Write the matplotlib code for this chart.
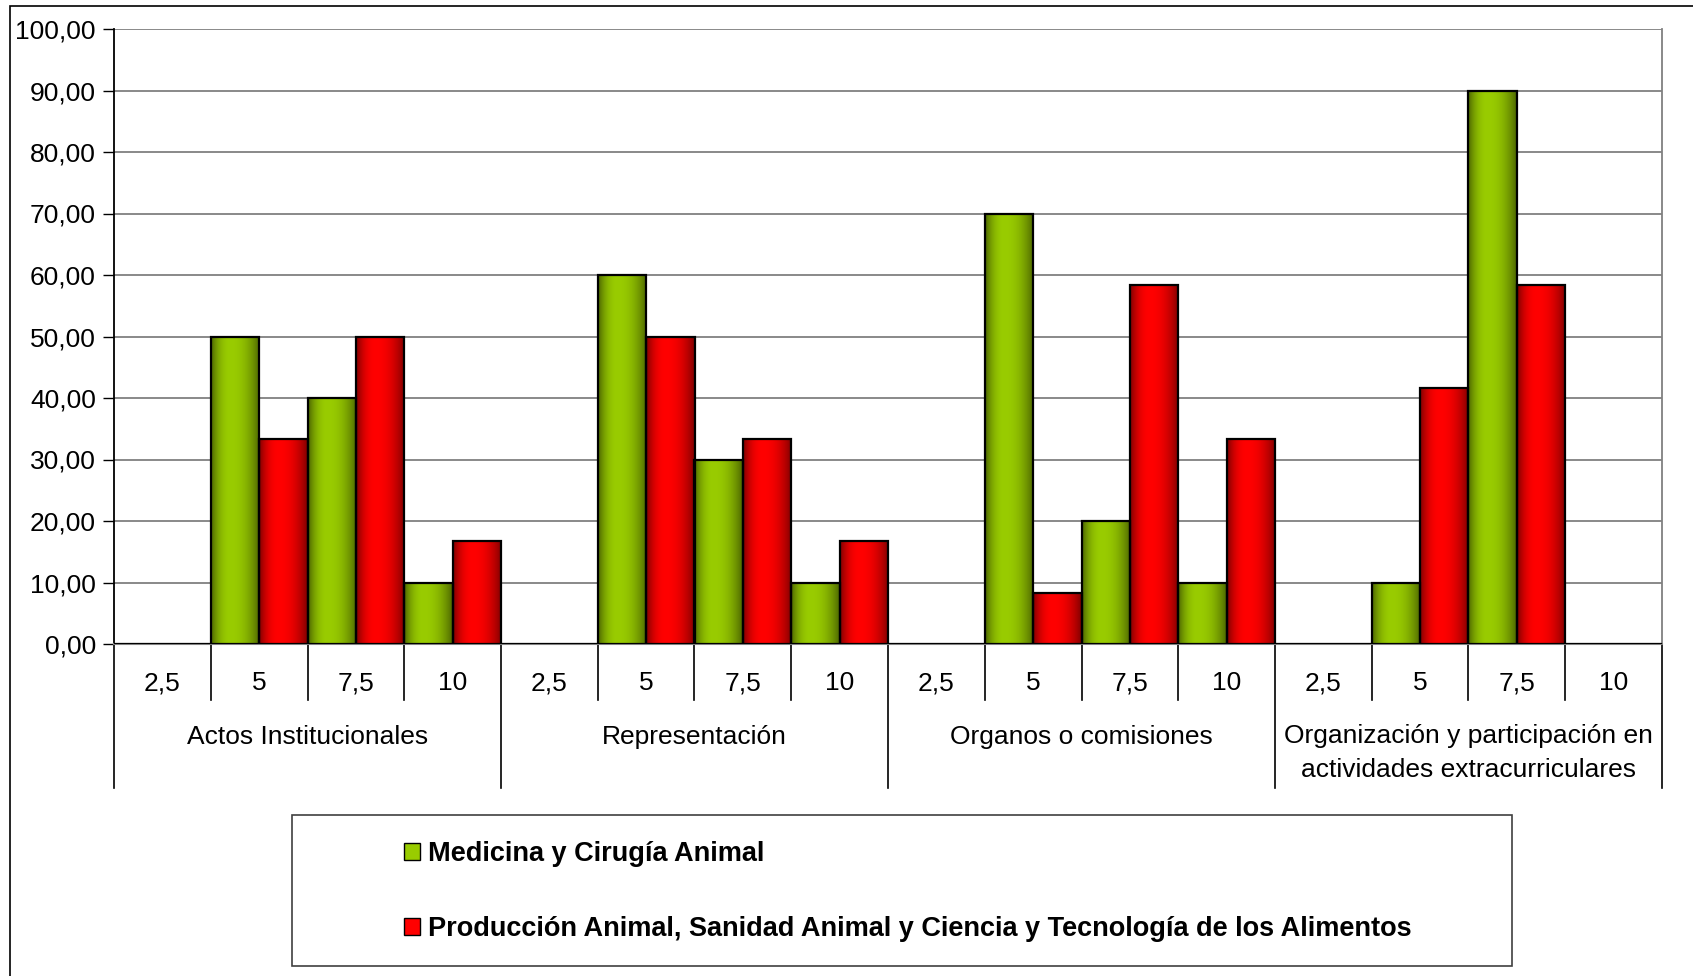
import numpy as np
import matplotlib
matplotlib.use("Agg")
import matplotlib.pyplot as plt
from matplotlib.patches import Rectangle, Patch
from matplotlib.colors import to_rgb

# Data
groups = ["Actos Institucionales", "Representación", "Organos o comisiones",
          "Organización y participación en\nactividades extracurriculares"]
levels = ["2,5", "5", "7,5", "10"]
series_names = ["Medicina y Cirugía Animal",
                "Producción Animal, Sanidad Animal y Ciencia y Tecnología de los Alimentos"]
medicina = [0, 50, 40, 10,
            0, 60, 30, 10,
            0, 70, 20, 10,
            0, 10, 90, 0]
produccion = [0, 33.33, 50, 16.67,
              0, 50, 33.33, 16.67,
              0, 8.33, 58.33, 33.33,
              0, 41.67, 58.33, 0]
yticks = np.arange(0, 101, 10)

plt.rcParams["font.family"] = ["Liberation Sans", "DejaVu Sans"]
FS = 19

W, H = 1693, 976
fig = plt.figure(figsize=(W / 100, H / 100), dpi=100)

# outer chart border
fig.patches.append(Rectangle((10 / W, -0.01), 1.1, 1 - 6 / H + 0.01, transform=fig.transFigure,
                             fill=False, edgecolor="black", linewidth=1.2))

ax_l, ax_r, ax_t, ax_b = 114, 1662, 29, 644
ax = fig.add_axes([ax_l / W, 1 - ax_b / H, (ax_r - ax_l) / W, (ax_b - ax_t) / H])

n = len(medicina)
x = np.arange(n)
bw = 0.5


def shade(color, c=0.4):
    # dark edges, bright centre (slightly left of middle)
    base = np.array(to_rgb(color))
    t = np.linspace(0, 1, 80)
    d = np.where(t < c, (c - t) / c, (t - c) / (1 - c))
    f = 0.5 + 0.5 * (1 - d ** 2.2)
    return f[None, :, None] * base[None, None, :]


green_img = shade("#99CC00")
red_img = shade("#FF0000")

for vals, img, off in [(medicina, green_img, -bw / 2), (produccion, red_img, bw / 2)]:
    bars = ax.bar(x + off, vals, width=bw, facecolor="none", edgecolor="black",
                  linewidth=1.6, zorder=4)
    for b in bars:
        h = b.get_height()
        if h <= 0:
            continue
        x0 = b.get_x()
        ax.imshow(img, extent=[x0, x0 + b.get_width(), 0, h], aspect="auto",
                  interpolation="bilinear", zorder=3)

ax.set_xlim(-0.5, n - 0.5)
ax.set_ylim(0, 100)
ax.set_yticks(yticks)
ax.set_yticklabels([f"{v:.2f}".replace(".", ",") for v in yticks], fontsize=FS)
ax.tick_params(axis="y", length=8, width=1, pad=5, colors="black")
ax.set_xticks([])
ax.grid(axis="y", color="#808080", linewidth=1.3, zorder=1)
ax.set_axisbelow(True)
ax.spines["right"].set_color("#808080")
ax.spines["right"].set_linewidth(1.3)
ax.spines["top"].set_visible(False)
ax.spines["bottom"].set_color("#808080")
ax.spines["bottom"].set_linewidth(1.5)
ax.spines["left"].set_linewidth(1.3)


# category axis labels and separators below
def ay(px):
    return (ax_b - px) / (ax_b - ax_t)


trans = ax.get_xaxis_transform()
for i in range(n):
    ax.text(x[i], ay(683), levels[i % 4], transform=trans, ha="center", va="center",
            fontsize=FS, clip_on=False)
for i in range(n + 1):
    bottom = 788 if i % 4 == 0 else 700
    ax.plot([i - 0.5, i - 0.5], [0, ay(bottom)], transform=trans, color="black",
            linewidth=1.2, clip_on=False)
for g, name in enumerate(groups):
    cx = g * 4 + 1.5
    ax.text(cx, ay(753 if "\n" in name else 737), name, transform=trans, ha="center",
            va="center", fontsize=FS, linespacing=1.5, clip_on=False)

# legend box
fig.patches.append(Rectangle((292 / W, 1 - 966 / H), (1512 - 292) / W, (966 - 815) / H,
                             transform=fig.transFigure, fill=False, edgecolor="#404040",
                             linewidth=1.2))
handles = [Patch(facecolor="#99CC00", edgecolor="black"),
           Patch(facecolor="#FF0000", edgecolor="black")]
fig.legend(handles, series_names, loc="upper left", bbox_to_anchor=(404 / W, 1 - 841 / H),
           frameon=False, prop={"weight": "bold", "size": 19.5}, handlelength=0.58,
           handleheight=0.58, handletextpad=0.3, labelspacing=1.8, borderpad=0,
           borderaxespad=0)

fig.savefig("out.png", dpi=100, facecolor="white")
